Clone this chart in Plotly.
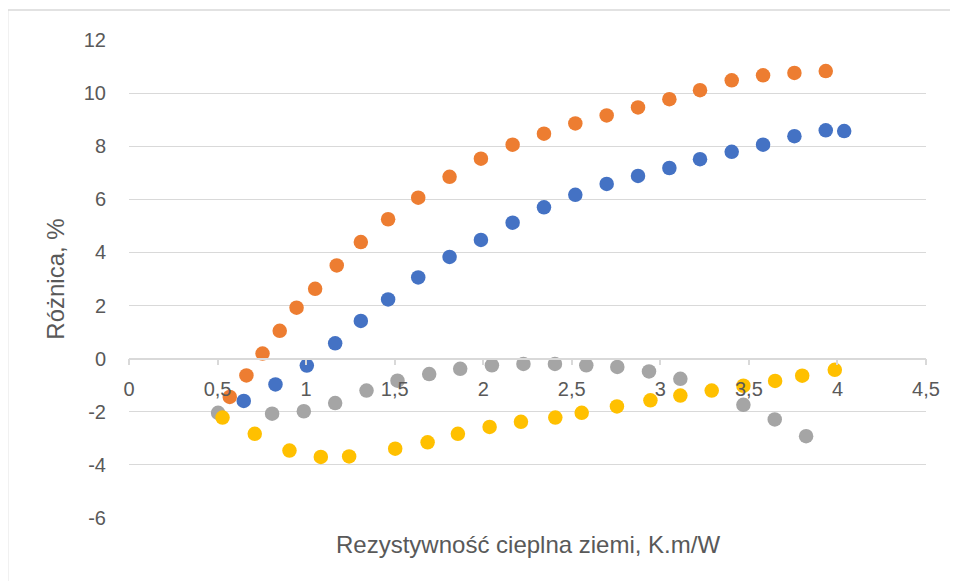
import plotly.graph_objects as go

# Series data (x: Rezystywność cieplna ziemi [K.m/W], y: Różnica [%])
blue_x = [0.648, 0.827, 1.004, 1.164, 1.309, 1.463, 1.633, 1.810, 1.987, 2.166, 2.343,
          2.520, 2.697, 2.874, 3.051, 3.224, 3.403, 3.580, 3.757, 3.934, 4.038]
blue_y = [-1.59, -0.97, -0.26, 0.58, 1.42, 2.23, 3.06, 3.83, 4.47, 5.12, 5.70,
          6.17, 6.58, 6.88, 7.18, 7.51, 7.79, 8.06, 8.38, 8.60, 8.57]

orange_x = [0.569, 0.663, 0.754, 0.851, 0.946, 1.051, 1.173, 1.309, 1.463, 1.633, 1.810,
            1.987, 2.166, 2.343, 2.520, 2.697, 2.874, 3.051, 3.224, 3.403, 3.580, 3.757, 3.934]
orange_y = [-1.44, -0.63, 0.19, 1.05, 1.92, 2.63, 3.51, 4.39, 5.25, 6.06, 6.85,
            7.53, 8.06, 8.47, 8.86, 9.16, 9.46, 9.77, 10.11, 10.48, 10.67, 10.76, 10.83]

gray_x = [0.503, 0.808, 0.987, 1.164, 1.341, 1.516, 1.695, 1.870, 2.049, 2.227, 2.405,
          2.582, 2.757, 2.936, 3.113, 3.469, 3.646, 3.823]
gray_y = [-2.04, -2.07, -1.98, -1.67, -1.20, -0.83, -0.58, -0.38, -0.25, -0.20, -0.20,
          -0.25, -0.31, -0.48, -0.76, -1.74, -2.29, -2.92]

yellow_x = [0.528, 0.710, 0.906, 1.083, 1.243, 1.503, 1.686, 1.857, 2.036, 2.213, 2.407,
            2.556, 2.755, 2.944, 3.113, 3.290, 3.469, 3.648, 3.801, 3.985]
yellow_y = [-2.22, -2.83, -3.46, -3.70, -3.68, -3.39, -3.15, -2.83, -2.57, -2.38, -2.22,
            -2.04, -1.80, -1.57, -1.39, -1.20, -1.02, -0.84, -0.64, -0.42]

x_ticks = [0, 0.5, 1, 1.5, 2, 2.5, 3, 3.5, 4, 4.5]
x_tick_labels = ["0", "0,5", "1", "1,5", "2", "2,5", "3", "3,5", "4", "4,5"]
y_ticks = [-6, -4, -2, 0, 2, 4, 6, 8, 10, 12]
y_tick_labels = ["-6", "-4", "-2", "0", "2", "4", "6", "8", "10", "12"]

x_title = "Rezystywność cieplna ziemi, K.m/W"
y_title = "Różnica, %"

FONT = "Liberation Sans"
TXT = "#595959"
GRID = "#d9d9d9"

fig = go.Figure()
for xs, ys, col in [(blue_x, blue_y, "#4472C4"), (orange_x, orange_y, "#ED7D31"),
                    (gray_x, gray_y, "#A5A5A5"), (yellow_x, yellow_y, "#FFC000")]:
    fig.add_trace(go.Scatter(x=xs, y=ys, mode="markers",
                             marker=dict(size=14.5, color=col, line=dict(width=0)),
                             showlegend=False))

fig.update_layout(
    width=950, height=573,
    margin=dict(l=121, r=32, t=32, b=63, autoexpand=False),
    paper_bgcolor="white", plot_bgcolor="white",
    font=dict(family=FONT, color=TXT),
    xaxis=dict(range=[0, 4.5], tickvals=x_ticks, ticktext=x_tick_labels,
               showgrid=False, zeroline=False,
               showline=True, linecolor=GRID, linewidth=1.5,
               ticks="outside", ticklen=6, tickcolor=GRID, tickwidth=1.5,
               anchor="free", position=1/3,
               tickfont=dict(size=20, color=TXT, family=FONT),
               ticklabelstandoff=7),
    yaxis=dict(range=[-6, 12], tickvals=y_ticks, ticktext=y_tick_labels,
               showgrid=True, gridcolor=GRID, gridwidth=1.3,
               zeroline=False, showline=False, ticks="",
               tickfont=dict(size=20, color=TXT, family=FONT),
               ticklabelstandoff=22,
               title=dict(text=y_title, font=dict(size=24, color=TXT, family=FONT), standoff=12)),
    shapes=[dict(type="rect", xref="paper", yref="paper",
                 x0=-0.1523, x1=1.2, y0=-0.3, y1=1.0628,
                 line=dict(color=GRID, width=1.5), fillcolor="rgba(0,0,0,0)", layer="below")],
    annotations=[dict(text=x_title, xref="paper", yref="paper", x=0.5, y=-0.022,
                      xanchor="center", yanchor="top", showarrow=False,
                      font=dict(size=24, color=TXT, family=FONT))],
)

fig.write_html("out.html")
